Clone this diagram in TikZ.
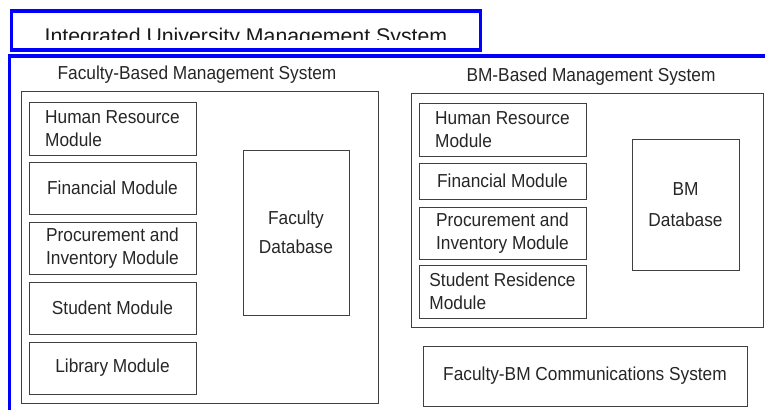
\documentclass[tikz,border=0pt]{standalone}
\usepackage{fontspec}
\setmainfont{Liberation Sans}
\newfontfamily\boxfont[FakeStretch=0.92]{Liberation Sans}
\tikzset{
  module/.style={draw=black!75, line width=1pt, minimum width=167pt, inner sep=0pt,
    align=left, text=black!85, font=\boxfont\fontsize{18.8}{23.5}\selectfont},
  database/.style={module, align=center},
  system/.style={draw=black!75, line width=1pt, inner sep=0pt},
  syslabel/.style={inner sep=0pt, text=black!85, font=\boxfont\fontsize{18.8}{23.5}\selectfont},
  blueline/.style={draw=blue, line width=3.5pt}
}
\begin{document}
\begin{tikzpicture}[x=1pt, y=-1pt]
  \useasboundingbox (0,0) rectangle (765,410);
  % title bar
  \draw[blueline] (11.5,11) rectangle (480.5,50);
  \begin{scope}
    \clip (13,13) rectangle (479,39.5);
    \node[anchor=base west, inner sep=0pt, text=black!90, font=\fontsize{21.3}{25}\selectfont] (title) at (44.5,43.3) {Integrated University Management System};
  \end{scope}
  \draw[blueline] (9.5,410) -- (9.5,56) -- (765,56);

  % Faculty side
  \node[syslabel] (faclabel) at (197,75) {Faculty-Based Management System};
  \node[system, minimum width=357pt, minimum height=312pt] (facsys) at (199.5,247) {};
  \node[module, minimum height=53pt] (fachr) at (112.5,128.5) {Human Resource\\Module};
  \node[module, minimum height=52pt] (facfin) at (112.5,188) {Financial Module};
  \node[module, minimum height=52pt] (facproc) at (112.5,248) {Procurement and\\Inventory Module};
  \node[module, minimum height=52pt] (facstud) at (112.5,308) {Student Module};
  \node[module, minimum height=52pt] (faclib) at (112.5,368) {Library Module};
  \node[database, minimum width=106pt, minimum height=165pt] (facdb) at (296,232.5) {Faculty\\[6pt]Database};

  % BM side
  \node[syslabel] (bmlabel) at (591,77) {BM-Based Management System};
  \node[system, minimum width=352pt, minimum height=234pt] (bmsys) at (587,210) {};
  \node[module, minimum height=53pt] (bmhr) at (502.5,129.5) {Human Resource\\Module};
  \node[module, minimum height=36pt] (bmfin) at (502.5,181) {Financial Module};
  \node[module, minimum height=52pt] (bmproc) at (502.5,233) {Procurement and\\Inventory Module};
  \node[module, minimum height=53pt] (bmres) at (502.5,291.5) {Student Residence\\Module};
  \node[database, minimum width=107pt, minimum height=131pt] (bmdb) at (685.5,204.5) {BM\\[8pt]Database};

  % communications
  \node[module, align=center, minimum width=324pt, minimum height=60pt] (comm) at (585,376) {Faculty-BM Communications System};
\end{tikzpicture}
\end{document}
